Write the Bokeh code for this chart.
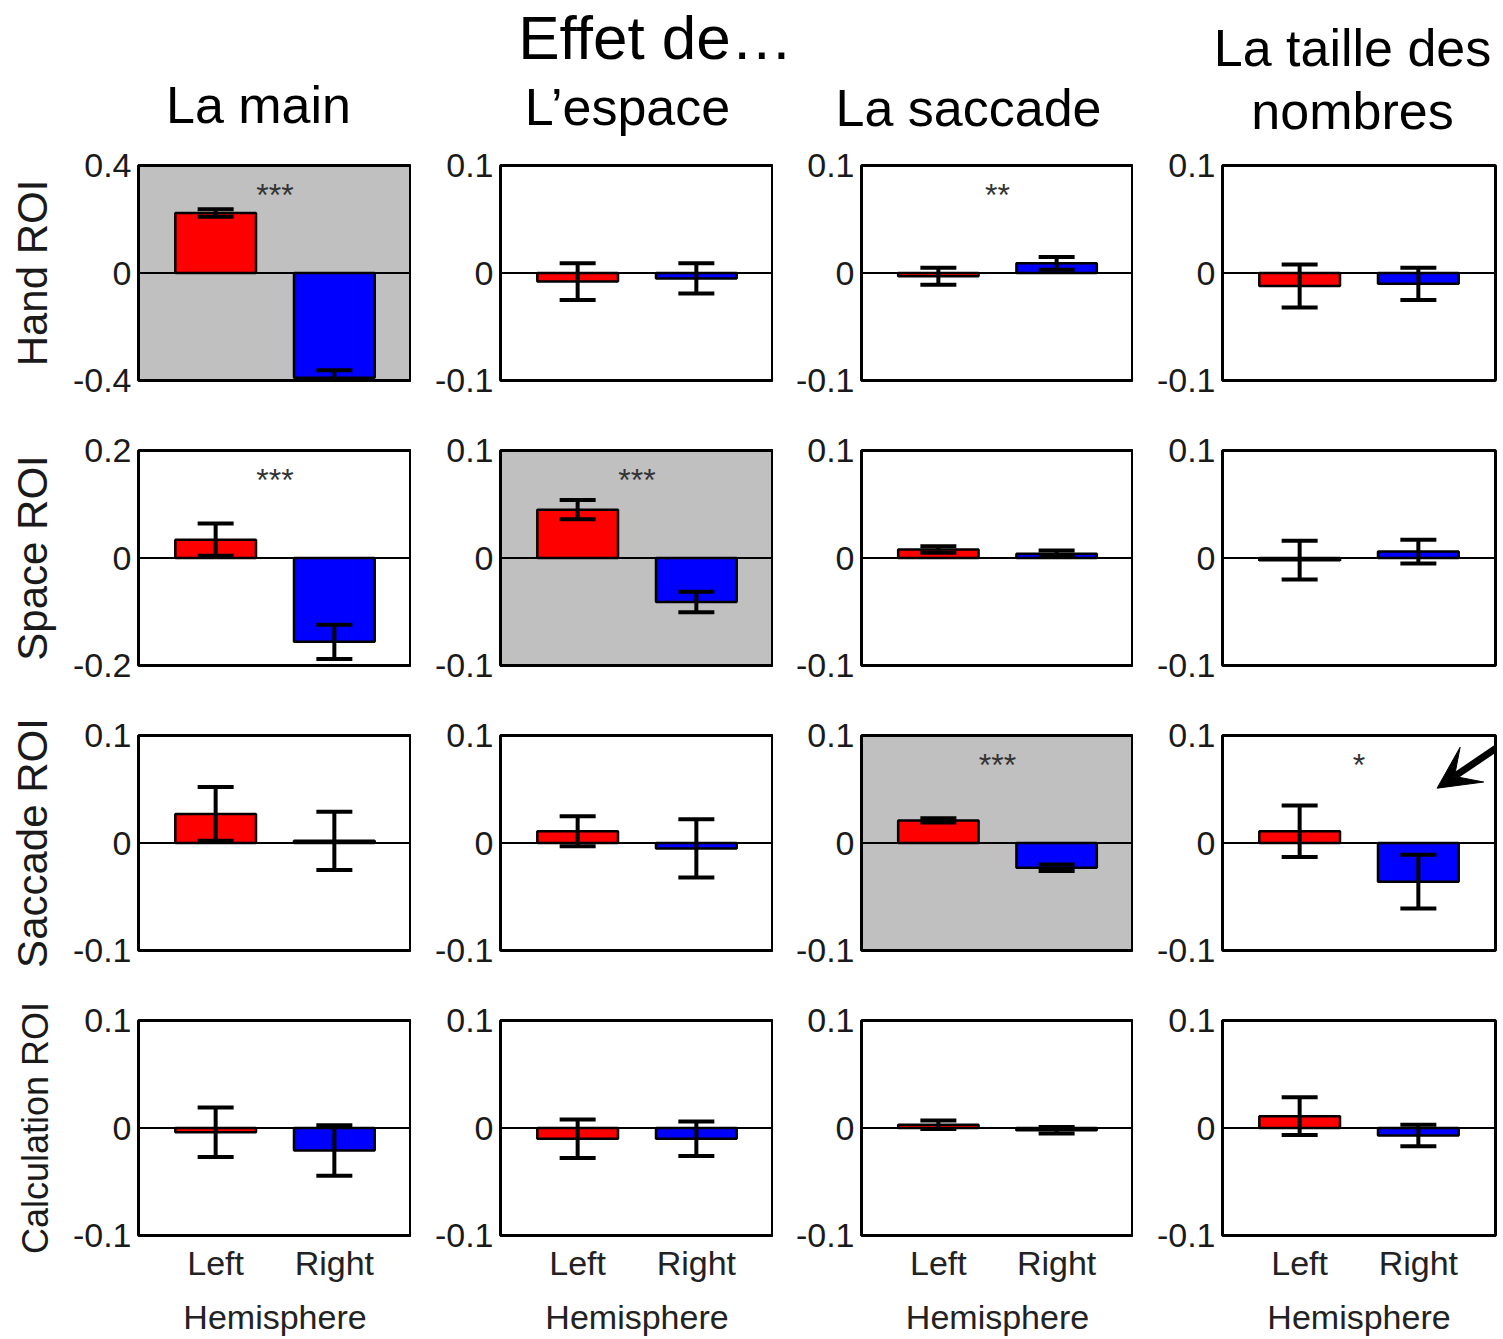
from bokeh.plotting import figure
from bokeh.layouts import column, row
from bokeh.models import (Range1d, FixedTicker, Span, Whisker, TeeHead,
                          ColumnDataSource, Arrow, VeeHead)
from bokeh.core.properties import value
from bokeh.embed import file_html
from bokeh.resources import INLINE

FONT = "Liberation Sans"

# ---- data -------------------------------------------------------------
effects = ["La main", "L’espace", "La saccade", "La taille des nombres"]
rois = ["Hand ROI", "Space ROI", "Saccade ROI", "Calculation ROI"]
hemispheres = ["Left", "Right"]

# symmetric y limit of each panel (row = ROI, column = effect)
y_limits = [
    [0.4, 0.1, 0.1, 0.1],
    [0.2, 0.1, 0.1, 0.1],
    [0.1, 0.1, 0.1, 0.1],
    [0.1, 0.1, 0.1, 0.1],
]

# mean effect (Left, Right) per effect column
hand_mean = [[0.223, -0.390], [-0.008, -0.005], [-0.003, 0.009], [-0.012, -0.010]]
hand_err = [[0.014, 0.028], [0.017, 0.014], [0.008, 0.006], [0.020, 0.015]]

space_mean = [[0.034, -0.156], [0.045, -0.041], [0.008, 0.004], [-0.002, 0.006]]
space_err = [[0.030, 0.032], [0.009, 0.0095], [0.003, 0.003], [0.018, 0.011]]

saccade_mean = [[0.027, 0.002], [0.011, -0.005], [0.021, -0.023], [0.011, -0.036]]
saccade_err = [[0.025, 0.027], [0.014, 0.027], [0.002, 0.003], [0.024, 0.025]]

calc_mean = [[-0.004, -0.021], [-0.010, -0.010], [0.003, -0.002], [0.011, -0.007]]
calc_err = [[0.023, 0.0235], [0.018, 0.016], [0.004, 0.003], [0.0175, 0.010]]

means = [hand_mean, space_mean, saccade_mean, calc_mean]
errors = [hand_err, space_err, saccade_err, calc_err]

stars = [
    ["***", "", "**", ""],
    ["***", "***", "", ""],
    ["", "", "***", "*"],
    ["", "", "", ""],
]

shaded = [
    [True, False, False, False],
    [False, True, False, False],
    [False, False, True, False],
    [False, False, False, False],
]

bar_colors = ["#ff0000", "#0000ff"]

# ---- layout geometry ----------------------------------------------------
col_left = [138, 89, 88, 89]
col_frame_w = [273, 273, 272, 273]
col_right = [0, 0, 0, 8]
row_top = [26, 35, 35, 35]
row_bottom = [35, 35, 35, 104]
FRAME_H = 215
HEADER_H = 139
TOTAL_W = sum(col_left) + sum(col_frame_w) + sum(col_right)


def fmt(v):
    return "0" if v == 0 else f"{v:g}"


def make_panel(r, c):
    lim = y_limits[r][c]
    bottom_row = r == len(rois) - 1
    p = figure(
        frame_width=col_frame_w[c], frame_height=FRAME_H,
        min_border_left=col_left[c], min_border_right=col_right[c],
        min_border_top=row_top[r], min_border_bottom=row_bottom[r],
        x_range=Range1d(0.35, 2.65), y_range=Range1d(-lim, lim),
        x_axis_location="below" if bottom_row else None,
        output_backend="svg", toolbar_location=None, tools="",
    )
    p.grid.visible = False
    p.outline_line_color = "black"
    p.outline_line_width = 3
    p.background_fill_color = "#c0c0c0" if shaded[r][c] else "white"
    p.border_fill_color = "white"

    # y axis: only the limits and zero
    ya = p.yaxis[0]
    ya.ticker = FixedTicker(ticks=[-lim, 0, lim])
    ya.major_label_overrides = {-lim: fmt(-lim), 0: "0", lim: fmt(lim)}
    ya.axis_line_color = None
    ya.major_tick_line_color = None
    ya.minor_tick_line_color = None
    ya.major_tick_out = 0
    ya.major_tick_in = 0
    ya.major_label_standoff = 7
    ya.major_label_text_font = FONT
    ya.major_label_text_font_size = "34px"
    ya.major_label_text_color = "#1a1a1a"
    if c == 0:
        ya.axis_label = rois[r]
        ya.axis_label_text_font = FONT
        ya.axis_label_text_font_style = "normal"
        ya.axis_label_text_font_size = "36px" if r == 3 else "42px"
        ya.axis_label_text_color = "#1a1a1a"
        ya.axis_label_standoff = 14

    if bottom_row:
        xa = p.xaxis[0]
        xa.ticker = FixedTicker(ticks=[1, 2])
        xa.major_label_overrides = {1: hemispheres[0], 2: hemispheres[1]}
        xa.axis_line_color = None
        xa.major_tick_line_color = None
        xa.minor_tick_line_color = None
        xa.major_tick_out = 0
        xa.major_tick_in = 0
        xa.major_label_standoff = 8
        xa.major_label_text_font = FONT
        xa.major_label_text_font_size = "34px"
        xa.major_label_text_color = "#222222"
        xa.axis_label = "Hemisphere"
        xa.axis_label_text_font = FONT
        xa.axis_label_text_font_style = "normal"
        xa.axis_label_text_font_size = "34px"
        xa.axis_label_text_color = "#222222"
        xa.axis_label_standoff = 13

    m = means[r][c]
    e = errors[r][c]
    src = ColumnDataSource(dict(
        x=[1, 2],
        top=m,
        color=bar_colors,
        upper=[min(mv + ev, lim) for mv, ev in zip(m, e)],
        lower=[max(mv - ev, -lim) for mv, ev in zip(m, e)],
    ))
    p.vbar(x="x", top="top", bottom=0, width=0.68, source=src,
           fill_color="color", line_color="black", line_width=2.5)

    p.add_layout(Span(location=0, dimension="width",
                      line_color="black", line_width=2))

    # error bars drawn on top of the bars
    p.add_layout(Whisker(
        source=src, base="x", upper="upper", lower="lower",
        line_color="black", line_width=4, level="overlay",
        upper_head=TeeHead(size=36, line_color="black", line_width=4),
        lower_head=TeeHead(size=36, line_color="black", line_width=4),
    ))

    if stars[r][c]:
        p.text(x=[1.5], y=[lim - 0.2 * lim], text=[stars[r][c]],
               text_align="center", text_baseline="middle",
               text_font=value(FONT), text_font_size=value("32px"),
               text_color="#333333", y_offset=8)

    # pointer to the lateralised number-size effect in the saccade ROI
    if r == 2 and c == 3:
        p.add_layout(Arrow(
            x_start=2.72, y_start=0.093, x_end=2.158, y_end=0.051,
            line_color="black", line_width=7,
            end=VeeHead(size=42, fill_color="black", line_color="black"),
        ))
    return p


# ---- header with the column titles --------------------------------------
header = figure(
    frame_width=TOTAL_W, frame_height=HEADER_H,
    x_range=Range1d(0, TOTAL_W), y_range=Range1d(HEADER_H, 0),
    x_axis_location=None, y_axis_location=None, min_border=0,
    output_backend="svg", toolbar_location=None, tools="",
)
header.grid.visible = False
header.outline_line_color = None

header.text(x=[655], y=[37], text=["Effet de…"],
            text_align="center", text_baseline="middle",
            text_font=value(FONT), text_font_size=value("62px"),
            text_color="black")

title_lines = ["La main", "L’espace", "La saccade", "La taille des", "nombres"]
title_x = [258, 627, 968, 1352, 1352]
title_y = [104, 106, 107, 47, 110]
header.text(x=title_x, y=title_y, text=title_lines,
            text_align="center", text_baseline="middle",
            text_font=value(FONT), text_font_size=value("52px"),
            text_color="black")

rows = [row(*[make_panel(r, c) for c in range(len(effects))], spacing=0)
        for r in range(len(rois))]
layout = column(header, *rows, spacing=0)

open("out.html", "w").write(file_html(layout, INLINE))
